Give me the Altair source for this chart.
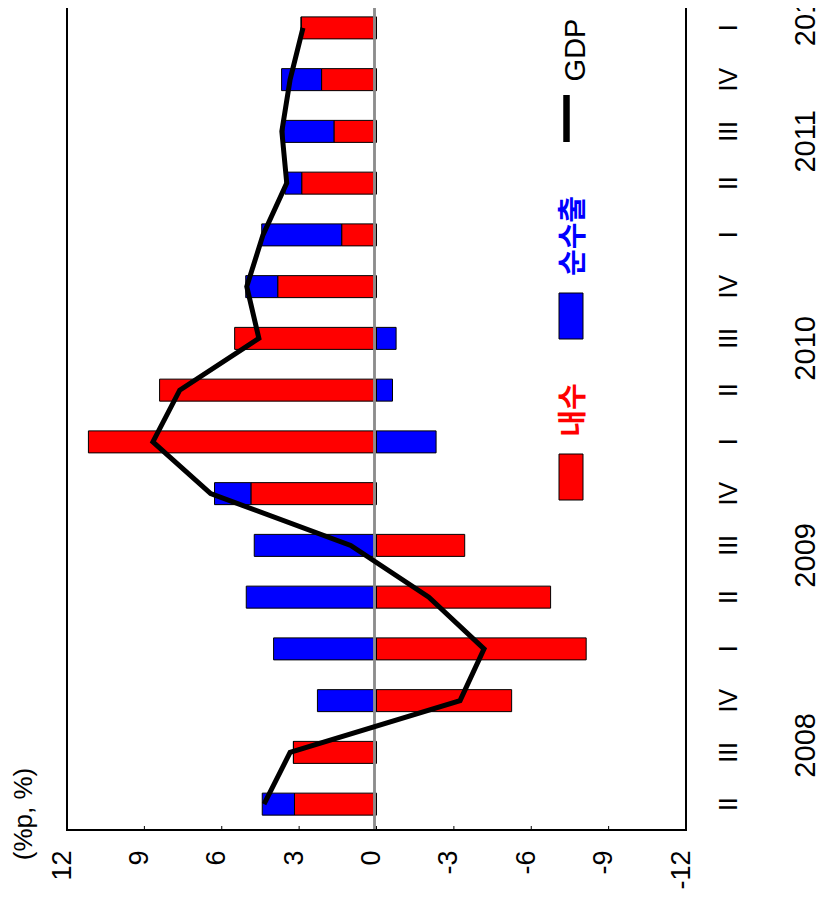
import altair as alt
import pandas as pd

quarters = ["2008 II", "2008 III", "2008 IV",
            "2009 I", "2009 II", "2009 III", "2009 IV",
            "2010 I", "2010 II", "2010 III", "2010 IV",
            "2011 I", "2011 II", "2011 III", "2011 IV",
            "2012 I"]
domestic = [3.18, 3.22, -5.24, -8.13, -6.75, -3.42, 4.87, 11.17, 8.41, 5.50, 3.83, 1.35, 2.90, 1.65, 2.13, 2.92]
net_exports = [1.25, 0.0, 2.29, 3.99, 5.05, 4.74, 1.41, -2.31, -0.62, -0.76, 1.24, 3.10, 0.65, 1.94, 1.55, 0.0]
gdp = [4.36, 3.35, -3.24, -4.17, -2.03, 1.00, 6.43, 8.67, 7.63, 4.56, 5.03, 4.40, 3.48, 3.67, 3.35, 2.85]
value_ticks = [-12, -9, -6, -3, 0, 3, 6, 9, 12]
series_names = ["내수", "순수출"]
series_colors = ["#ff0000", "#0000ff"]
years_mid = ["2009", "2010", "2011"]
years_mid_q = ["2009 III", "2010 III", "2011 III"]
unit_label = "(%p, %)"

W, H = 619, 828
FONT = "Liberation Sans"
KFONT = "Noto Sans CJK KR"

rows = []
for q, d, n in zip(quarters, domestic, net_exports):
    rows.append({"quarter": q, "series": series_names[0], "value": d, "ord": 0})
    rows.append({"quarter": q, "series": series_names[1], "value": n, "ord": 1})
bars_df = pd.DataFrame(rows)
gdp_df = pd.DataFrame({"quarter": quarters, "gdp": gdp, "idx": list(range(len(quarters)))})
ticks_df = pd.DataFrame({"t": value_ticks})

yscale = alt.Scale(domain=quarters[::-1], paddingOuter=0, paddingInner=0)
xscale = alt.Scale(domain=[-12, 12], reverse=True, nice=False)

bars = alt.Chart(bars_df).mark_bar(size=22, stroke="black", strokeWidth=1).encode(
    x=alt.X("value:Q", stack="zero", scale=xscale,
            axis=alt.Axis(values=value_ticks, labelExpr="'' + datum.value",
                          labelAngle=270, labelAlign="right", labelBaseline="middle",
                          labelFontSize=27, labelFont=FONT, labelColor="black",
                          labelPadding=20, labelOffset=-5, ticks=False, tickSize=0,
                          domain=False, grid=False, title=None,
                          labelFlush=False, labelOverlap=False)),
    y=alt.Y("quarter:N", scale=yscale,
            axis=alt.Axis(orient="right", labelExpr="split(datum.value, ' ')[1]",
                          labelAngle=270, labelAlign="center", labelBaseline="top",
                          labelFontSize=25, labelFont=FONT, labelColor="black",
                          labelPadding=30, ticks=False, domain=False, grid=False,
                          title=None, labelOverlap=False)),
    color=alt.Color("series:N", scale=alt.Scale(domain=series_names, range=series_colors), legend=None),
    order=alt.Order("ord:Q"),
)

zero_rule = alt.Chart(ticks_df).mark_rule(color="#8c8c8c", strokeWidth=1.5, xOffset=-2).encode(
    x=alt.datum(0)
)

tick_marks = alt.Chart(ticks_df).mark_rule(color="black", strokeWidth=1).encode(
    x=alt.X("t:Q", scale=xscale),
    y=alt.value(H - 4), y2=alt.value(H),
)

frame = alt.Chart(ticks_df.iloc[[0]]).mark_rect(fill=None, stroke="black", strokeWidth=2).encode(
    x=alt.value(0), x2=alt.value(W), y=alt.value(0), y2=alt.value(H)
)

line = alt.Chart(gdp_df).mark_line(color="black", strokeWidth=5, strokeJoin="miter").encode(
    x=alt.X("gdp:Q", scale=xscale),
    y=alt.Y("quarter:N", scale=yscale),
    order=alt.Order("idx:Q"),
)

YX = 725
year_mid = alt.Chart(pd.DataFrame({"q": years_mid_q, "label": years_mid})).mark_text(
    angle=270, align="center", baseline="top", fontSize=29, font=FONT, color="black", yOffset=10
).encode(y=alt.Y("q:N", scale=yscale), x=alt.value(YX), text="label:N")

year_first = alt.Chart(pd.DataFrame({"q": ["2008 III"], "label": ["2008"]})).mark_text(
    angle=270, align="center", baseline="top", fontSize=29, font=FONT, color="black", yOffset=-7
).encode(y=alt.Y("q:N", scale=yscale), x=alt.value(YX), text="label:N")

year_last = alt.Chart(pd.DataFrame({"q": ["2012 I"], "label": ["2012"]})).mark_text(
    angle=270, align="center", baseline="top", fontSize=29, font=FONT, color="black", yOffset=-14
).encode(y=alt.Y("q:N", scale=yscale), x=alt.value(YX), text="label:N")

unit = alt.Chart(pd.DataFrame({"t": [unit_label]})).mark_text(
    angle=270, align="center", baseline="middle", fontSize=26, font=FONT, color="black"
).encode(x=alt.value(-43), y=alt.value(812), text="t:N")

leg_df = pd.DataFrame({"name": series_names + ["GDP"]})

red_sw = alt.Chart(leg_df.iloc[[0]]).mark_rect(color=series_colors[0], stroke="black", strokeWidth=1).encode(
    x=alt.value(492), x2=alt.value(516), y=alt.value(452), y2=alt.value(498))
blue_sw = alt.Chart(leg_df.iloc[[1]]).mark_rect(color=series_colors[1], stroke="black", strokeWidth=1).encode(
    x=alt.value(492), x2=alt.value(516), y=alt.value(291), y2=alt.value(337))
blk_ln = alt.Chart(leg_df.iloc[[2]]).mark_rule(color="black", strokeWidth=6.5).encode(
    x=alt.value(499.5), y=alt.value(93), y2=alt.value(140))

red_tx = alt.Chart(leg_df.iloc[[0]]).mark_text(
    angle=270, align="center", baseline="middle", fontSize=29, font=KFONT, fontWeight="bold",
    color=series_colors[0]).encode(x=alt.value(507), y=alt.value(408), text="name:N")
blue_tx = alt.Chart(leg_df.iloc[[1]]).mark_text(
    angle=270, align="center", baseline="middle", fontSize=29, font=KFONT, fontWeight="bold",
    color=series_colors[1]).encode(x=alt.value(507), y=alt.value(234), text="name:N")
gdp_tx = alt.Chart(leg_df.iloc[[2]]).mark_text(
    angle=270, align="center", baseline="middle", fontSize=29, font=FONT,
    color="black").encode(x=alt.value(508.7), y=alt.value(48), text="name:N")

chart = alt.layer(
    bars, zero_rule, tick_marks, line, frame,
    year_mid, year_first, year_last, unit,
    red_sw, blue_sw, blk_ln, red_tx, blue_tx, gdp_tx,
).properties(
    width=W, height=H,
    autosize=alt.AutoSizeParams(type="none"),
    padding={"left": 59, "top": -6, "right": 133, "bottom": 60},
).configure_view(
    stroke=None
).configure(background="white")

chart.save("out.html", embed_options={"renderer": "svg", "actions": False})
